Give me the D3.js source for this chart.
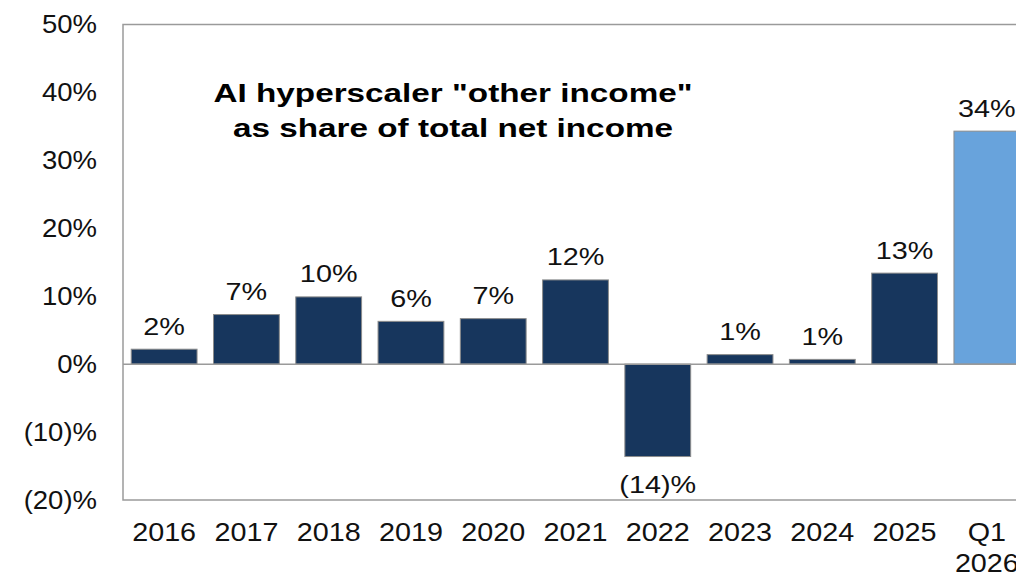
<!DOCTYPE html>
<html>
<head>
<meta charset="utf-8">
<script src="https://cdn.jsdelivr.net/npm/d3@7"></script>
<style>
  html, body { margin: 0; padding: 0; background: #fff; }
  svg { display: block; font-family: "Liberation Sans", Arial, sans-serif; }
</style>
</head>
<body>
<svg id="chart" width="1016" height="573"></svg>
<script>
// Share of "other income" in total net income, by period (percent)
const categories = ["2016", "2017", "2018", "2019", "2020", "2021", "2022", "2023", "2024", "2025", "Q1 2026"];
const shareValues = [2.2, 7.3, 9.9, 6.3, 6.7, 12.4, -13.6, 1.4, 0.7, 13.4, 34.3];
const highlighted = ["Q1 2026"];
const yTicks = [-20, -10, 0, 10, 20, 30, 40, 50];
const titleLines = ["AI hyperscaler \"other income\"", "as share of total net income"];

const svg = d3.select("#chart");
const plot = { left: 123, right: 1028, top: 24.5, bottom: 500 };

const x = d3.scaleBand()
  .domain(categories)
  .range([plot.left, plot.right])
  .paddingInner(0.2)
  .paddingOuter(0.1);

const y = d3.scaleLinear()
  .domain([-20, 50])
  .range([plot.bottom, plot.top]);

const pct = v => {
  const r = Math.round(Math.abs(v));
  return v < 0 ? `(${r})%` : `${r}%`;
};

// Horizontal stretch helper for text placed at (px, py)
function stretchedText(sel, px, py, sx) {
  return sel.attr("transform", `translate(${px},${py}) scale(${sx},1)`);
}

// Plot frame
svg.append("rect")
  .attr("x", plot.left)
  .attr("y", plot.top)
  .attr("width", plot.right - plot.left)
  .attr("height", plot.bottom - plot.top)
  .attr("fill", "none")
  .attr("stroke", "#9a9a9a")
  .attr("stroke-width", 1.5);

// Y axis tick labels
const yAxis = svg.append("g");
yTicks.forEach(t => {
  stretchedText(yAxis.append("text"), 97, y(t), 1.1)
    .attr("text-anchor", "end")
    .attr("dominant-baseline", "central")
    .attr("font-size", 25)
    .attr("fill", "#111")
    .text(pct(t));
});

// Bars
svg.append("g")
  .selectAll("rect")
  .data(categories)
  .join("rect")
  .attr("x", d => x(d))
  .attr("width", x.bandwidth())
  .attr("y", (d, i) => y(Math.max(0, shareValues[i])))
  .attr("height", (d, i) => Math.abs(y(shareValues[i]) - y(0)))
  .attr("fill", d => highlighted.includes(d) ? "#68a3dc" : "#17365d")
  .attr("stroke", "#8c8c8c")
  .attr("stroke-width", 1);

// Zero line
svg.append("line")
  .attr("x1", plot.left)
  .attr("x2", plot.right)
  .attr("y1", y(0))
  .attr("y2", y(0))
  .attr("stroke", "#9a9a9a")
  .attr("stroke-width", 1.5);

// Value labels
const labels = svg.append("g");
categories.forEach((c, i) => {
  const v = shareValues[i];
  const cx = x(c) + x.bandwidth() / 2;
  const py = v >= 0 ? y(v) - 14.5 : y(v) + 36;
  stretchedText(labels.append("text"), cx, py, 1.2)
    .attr("text-anchor", "middle")
    .attr("font-size", 24)
    .attr("fill", "#111")
    .text(pct(v));
});

// Category labels
const xAxis = svg.append("g");
categories.forEach(c => {
  const cx = x(c) + x.bandwidth() / 2;
  const parts = c.split(" ");
  parts.forEach((p, k) => {
    stretchedText(xAxis.append("text"), cx, 541 + k * 30.5, 1.15)
      .attr("text-anchor", "middle")
      .attr("font-size", 25)
      .attr("fill", "#111")
      .text(p);
  });
});

// Title
const title = svg.append("g");
titleLines.forEach((line, k) => {
  stretchedText(title.append("text"), 453, 101.5 + k * 35, 1.28)
    .attr("text-anchor", "middle")
    .attr("font-size", 26)
    .attr("font-weight", "bold")
    .attr("fill", "#000")
    .text(line);
});
</script>
</body>
</html>
